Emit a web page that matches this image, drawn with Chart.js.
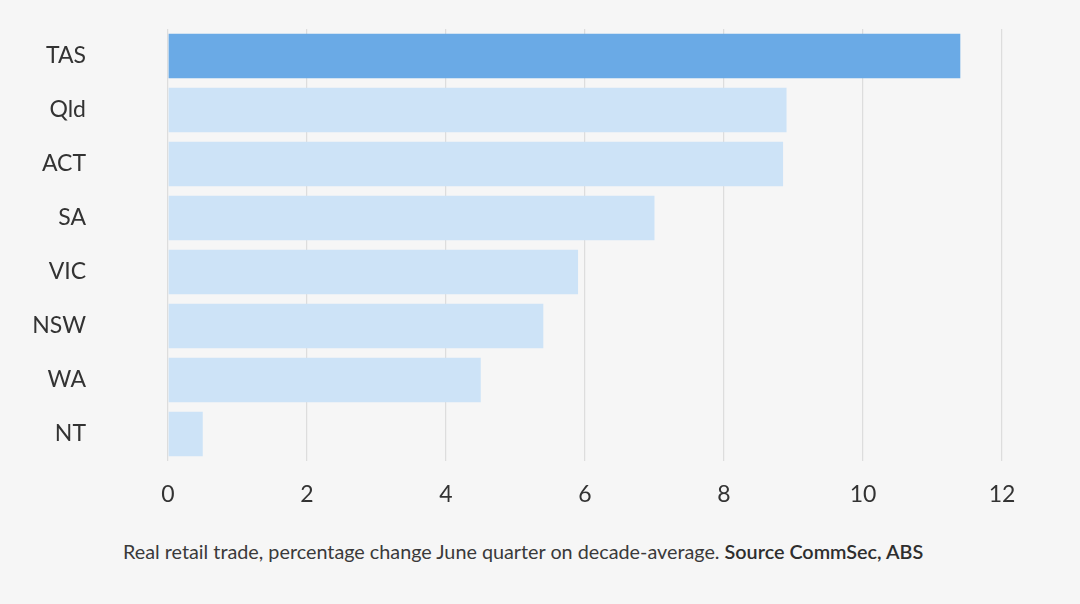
<!DOCTYPE html>
<html>
<head>
<meta charset="utf-8">
<script src="https://cdn.jsdelivr.net/npm/chart.js@4/dist/chart.umd.min.js"></script>
<style>
  body { margin: 0; background: #f6f6f6; }
  #wrap { position: relative; width: 1080px; height: 604px; background: #f6f6f6; }
  #box { position: absolute; left: 0; top: 0; width: 1080px; height: 530px; }
  #caption {
    position: absolute; left: 123px; top: 539px;
    font-family: Lato, sans-serif; font-size: 19.8px; color: #3a3a3a;
    white-space: nowrap;
  }
  #caption b { font-weight: 600; color: #2e2e2e; }
</style>
</head>
<body>
<div id="wrap">
  <div id="box"><canvas id="grafico"></canvas></div>
  <div id="caption">Real retail trade, percentage change June quarter on decade-average. <b>Source CommSec, ABS</b></div>
</div>
<script>
let estados = ['TAS', 'Qld', 'ACT', 'SA', 'VIC', 'NSW', 'WA', 'NT']
let variacao = [11.4, 8.9, 8.85, 7.0, 5.9, 5.4, 4.5, 0.5]
let ticksX = [0, 2, 4, 6, 8, 10, 12]

// TAS em destaque
let cores = estados.map((e, i) => i === 0 ? '#6aaae6' : '#cde3f7')

let grafico = document.getElementById('grafico')

new Chart(grafico, {
  type: 'bar',
  data: {
    labels: estados,
    datasets: [{
      label: 'Variação',
      data: variacao,
      backgroundColor: cores,
      borderWidth: 0,
      barPercentage: 0.82,
      categoryPercentage: 1
    }]
  },
  options: {
    indexAxis: 'y',
    responsive: true,
    maintainAspectRatio: false,
    animation: false,
    layout: { padding: { top: 29, right: 78, left: 0, bottom: 0 } },
    plugins: {
      legend: { display: false },
      tooltip: { enabled: false }
    },
    scales: {
      x: {
        min: 0,
        max: 12,
        afterBuildTicks: (scale) => { scale.ticks = ticksX.map(v => ({ value: v })) },
        afterFit: (scale) => {
          scale.height = 69
          scale.paddingLeft = 0
          scale.paddingRight = 0
        },
        grid: { color: '#dddddd', lineWidth: 1.2, drawTicks: false },
        border: { display: false },
        ticks: {
          padding: 20,
          color: '#333333',
          font: { family: 'Lato', size: 23 }
        }
      },
      y: {
        afterFit: (scale) => {
          scale.width = 168
          scale.paddingTop = 0
          scale.paddingBottom = 0
        },
        grid: { display: false, drawTicks: false },
        border: { display: false },
        ticks: {
          padding: 82,
          color: '#333333',
          font: { family: 'Lato', size: 23 }
        }
      }
    }
  }
})
</script>
</body>
</html>
